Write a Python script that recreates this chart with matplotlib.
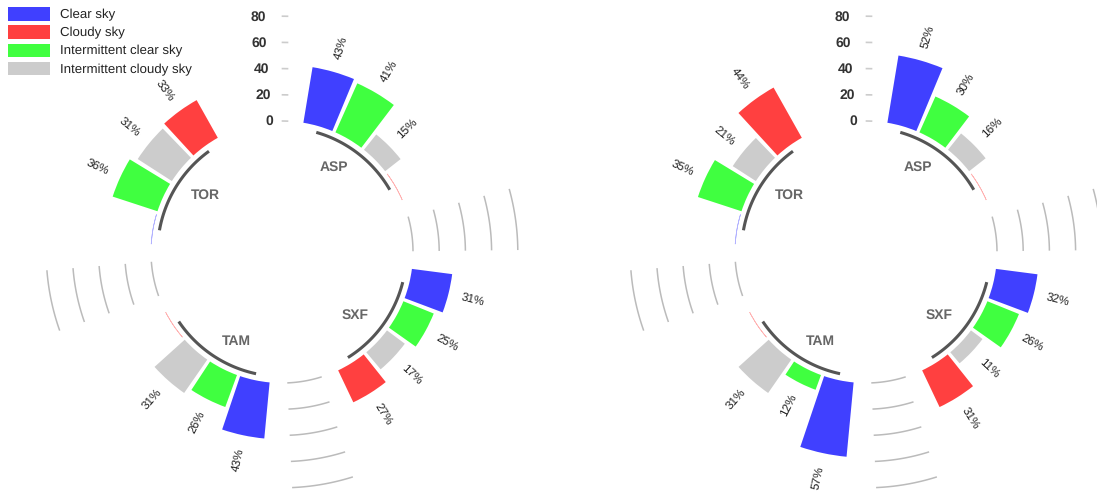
import numpy as np
import matplotlib
matplotlib.use("Agg")
import matplotlib.pyplot as plt
from matplotlib.patches import Patch

plt.rcParams['font.family'] = ['Liberation Sans', 'DejaVu Sans']
plt.rcParams['text.hinting'] = 'no_hinting'

# stations, in drawing order (clockwise from the top)
groups = ['ASP', 'SXF', 'TAM', 'TOR']

# sky type per bar inside each group, in drawing order
sky_types = ['Clear sky', 'Intermittent clear sky',
             'Intermittent cloudy sky', 'Cloudy sky']

# left chart, percent per station
left_clear = [43, 31, 43, 0]
left_int_clear = [41, 25, 26, 36]
left_int_cloudy = [15, 17, 31, 31]
left_cloudy = [0, 27, 0, 33]

# right chart, percent per station
right_clear = [52, 32, 57, 0]
right_int_clear = [30, 26, 12, 35]
right_int_cloudy = [16, 11, 31, 21]
right_cloudy = [0, 31, 0, 44]

scale_ticks = [0, 20, 40, 60, 80]

legend_order = ['Clear sky', 'Cloudy sky',
                'Intermittent clear sky', 'Intermittent cloudy sky']

colors = {
    'Clear sky': '#4040FF',
    'Cloudy sky': '#FF4040',
    'Intermittent clear sky': '#40FF40',
    'Intermittent cloudy sky': '#CCCCCC',
}

# layout of the slots around the circle
EMPTY = 2
X_MIN, X_MAX = -0.09, 24.45
HOLE = 100
R_MAX = 220

W, H = 1097, 493
PX = 1.31  # pixels per unit


def theta(x):
    return 2 * np.pi * (np.asarray(x, dtype=float) - X_MIN) / (X_MAX - X_MIN)


def draw_chart(ax, clear, int_clear, int_cloudy, cloudy):
    ax.set_theta_zero_location('N')
    ax.set_theta_direction(-1)
    ax.set_ylim(0, R_MAX)
    ax.set_axis_off()

    series = {
        'Clear sky': clear,
        'Intermittent clear sky': int_clear,
        'Intermittent cloudy sky': int_cloudy,
        'Cloudy sky': cloudy,
    }
    width = 0.9 * 2 * np.pi / (X_MAX - X_MIN)
    n = len(sky_types)

    for g, name in enumerate(groups):
        start = 1 + g * (n + EMPTY)
        ids = np.arange(start, start + n)

        for i, sky in enumerate(sky_types):
            v = series[sky][g]
            t = theta(ids[i])
            if v > 0:
                ax.bar(t, v, width=width, bottom=HOLE,
                       color=colors[sky], linewidth=0)
                deg = np.rad2deg(t)
                if deg < 180:
                    rot, ha = 90 - deg, 'left'
                else:
                    rot, ha = 270 - deg, 'right'
                ax.text(t, HOLE + v + 10, f"{v}%", rotation=rot,
                        rotation_mode='anchor', ha=ha, va='center',
                        fontsize=8.5, color='#222222')
            else:
                ax.bar(t, 0, width=width, bottom=HOLE, fill=False,
                       edgecolor=colors[sky], linewidth=0.5, alpha=0.4)

        # group base line and name
        arc = np.linspace(theta(ids[0]), theta(ids[-1]), 60)
        ax.plot(arc, np.full_like(arc, HOLE - 5), color='#555555',
                lw=2.2, solid_capstyle='butt')
        ha = 'right' if g < 2 else 'left'
        ax.text(theta(ids.mean()), HOLE - 18, name, ha=ha, va='center',
                fontsize=10, fontweight='bold', color='#666666')

        # grid arcs in the gap before this group
        if g > 0:
            arc = np.linspace(theta(start - EMPTY), theta(start - 1), 40)
            for v in scale_ticks:
                ax.plot(arc, np.full_like(arc, HOLE + v), color='#BBBBBB',
                        lw=1.1)

    # radial scale at the top
    for v in scale_ticks:
        r = HOLE + v
        ax.text(np.deg2rad(356), r, str(v), ha='right', va='center',
                fontsize=10, fontweight='bold', color='#333333')
        dt = np.array([0.5, 5.5]) / PX / r
        ax.plot(dt, [r, r], color='#CCCCCC', lw=1.2)


fig = plt.figure(figsize=(W / 100, H / 100), dpi=100)

R_PX = R_MAX * PX
for cx, data in [(282, (left_clear, left_int_clear, left_int_cloudy, left_cloudy)),
                 (866, (right_clear, right_int_clear, right_int_cloudy, right_cloudy))]:
    cy = 252
    ax = fig.add_axes([(cx - R_PX) / W, (H - cy - R_PX) / H,
                       2 * R_PX / W, 2 * R_PX / H], projection='polar')
    draw_chart(ax, *data)

handles = [Patch(facecolor=colors[s], edgecolor='none') for s in legend_order]
fig.legend(handles, legend_order, loc='upper left',
           bbox_to_anchor=(8 / W, 1 - 7 / H), frameon=False, fontsize=9.5,
           handlelength=3.2, handleheight=1.2, handletextpad=0.75,
           labelspacing=0.33, borderpad=0, borderaxespad=0,
           labelcolor='#222222')

fig.savefig("out.png", dpi=100)
